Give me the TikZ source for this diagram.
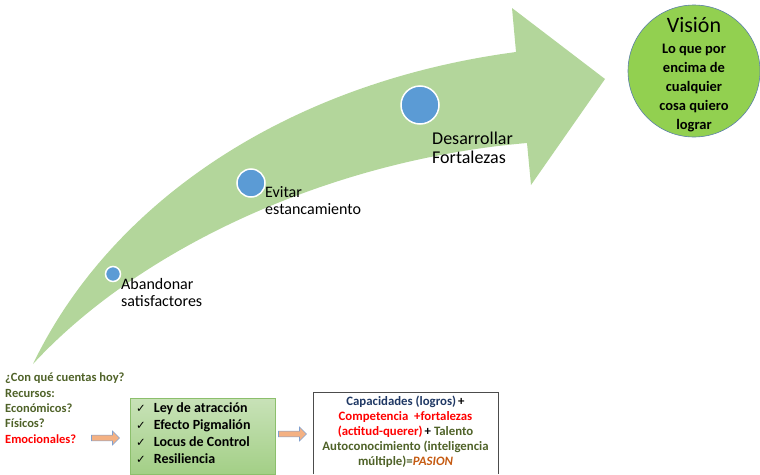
\documentclass[tikz,border=0pt]{standalone}
\usepackage{fontspec}
\setmainfont{Carlito}
\newfontfamily\symfont{DejaVu Sans}
\usetikzlibrary{shapes.arrows}
\definecolor{arrowgreen}{HTML}{B3D69B}
\definecolor{dotblue}{HTML}{5B9BD5}
\definecolor{visgreen}{HTML}{92D050}
\definecolor{visedge}{HTML}{5B7FA8}
\definecolor{olive}{HTML}{4F6228}
\definecolor{navy}{HTML}{1F3864}
\definecolor{pasion}{HTML}{C55A11}
\definecolor{boxtop}{HTML}{C8E2B8}
\definecolor{boxbot}{HTML}{A3CF86}
\definecolor{boxedge}{HTML}{8CBF6C}
\definecolor{salmon}{HTML}{F4B183}
\definecolor{arredge}{HTML}{7F9FCF}
\newcommand{\chk}{{\symfont\fontsize{11.5}{17}\selectfont ✓}\hspace{8pt}}
\begin{document}
\begin{tikzpicture}[x=1pt,y=-1pt,
  dot/.style={circle,fill=dotblue,draw=white,line width=1.5pt,inner sep=0pt},
  steplabel/.style={anchor=west,align=left,font=\fontsize{16}{17}\selectfont,inner sep=0pt},
  smallarrow/.style={single arrow,fill=salmon,draw=arredge,line width=0.6pt,minimum height=28pt,minimum width=14pt,single arrow head extend=2.5pt,inner sep=1.5pt}]
\useasboundingbox (0,0) rectangle (760,474);
% big curved arrow
\fill[arrowgreen] (33,364) .. controls (112,200) and (290,82) .. (516,52)
  -- (512,8) -- (605,79) -- (531,185) -- (527,143)
  .. controls (330,160) and (140,248) .. (33,364) -- cycle;
% dots
\node[dot,minimum size=15pt] (d1) at (113,274) {};
\node[dot,minimum size=28pt] (d2) at (251,183) {};
\node[dot,minimum size=38pt] (d3) at (420,105) {};
\node[steplabel] (l1) at (121,292) {Abandonar\\satisfactores};
\node[steplabel] (l2) at (265,201) {Evitar\\estancamiento};
\node[steplabel,font=\fontsize{18}{19}\selectfont] (l3) at (432,148) {Desarrollar\\Fortalezas};
% vision
\node[circle,fill=visgreen,draw=visedge,line width=0.6pt,minimum size=132pt,inner sep=0pt] (vis) at (694,71) {};
\node[inner sep=0pt,font=\fontsize{22}{24}\selectfont] (vt) at (694,25) {Visión};
\node[align=center,inner sep=0pt,anchor=north,font=\fontsize{14.5}{19}\selectfont\bfseries] (vb) at (694,44)
  {Lo que por\\encima de\\cualquier\\cosa quiero\\lograr};
% left text
\node[anchor=north west,align=left,inner sep=0pt,font=\fontsize{12.5}{15.3}\selectfont\bfseries,text=olive] (q) at (5,373)
 {¿Con qué cuentas hoy?\\Recursos:\\Económicos?\\Físicos?\\\textcolor{red}{Emocionales?}};
% green box
\draw[boxedge,line width=0.6pt,top color=boxtop,bottom color=boxbot] (130,398) -- (130,474) -- (275,474) -- (275,398) -- cycle;
\node[anchor=north west,align=left,inner sep=0pt,font=\fontsize{14}{17}\selectfont\bfseries] (items) at (136,402)
 {\chk Ley de atracción\\
  \chk Efecto Pigmalión\\
  \chk Locus de Control\\
  \chk Resiliencia};
% white box
\draw[black!70,line width=0.8pt] (313,474) -- (313,392) -- (498,392) -- (498,474);
\node[align=center,inner sep=0pt,font=\fontsize{12.8}{15}\selectfont\bfseries,anchor=north] (wb) at (405.5,396)
 {\textcolor{navy}{Capacidades (logros)}\,+\\
  \textcolor{red}{Competencia \ +fortalezas}\\
  \textcolor{red}{(actitud-querer)}\,+ \textcolor{olive}{Talento}\\
  \textcolor{olive}{Autoconocimiento (inteligencia}\\
  \textcolor{olive}{múltiple)=}\textcolor{pasion}{\itshape PASION}};
% small arrows
\node[smallarrow] (a1) at (104,438) {};
\node[smallarrow] (a2) at (291,434) {};
\end{tikzpicture}
\end{document}
